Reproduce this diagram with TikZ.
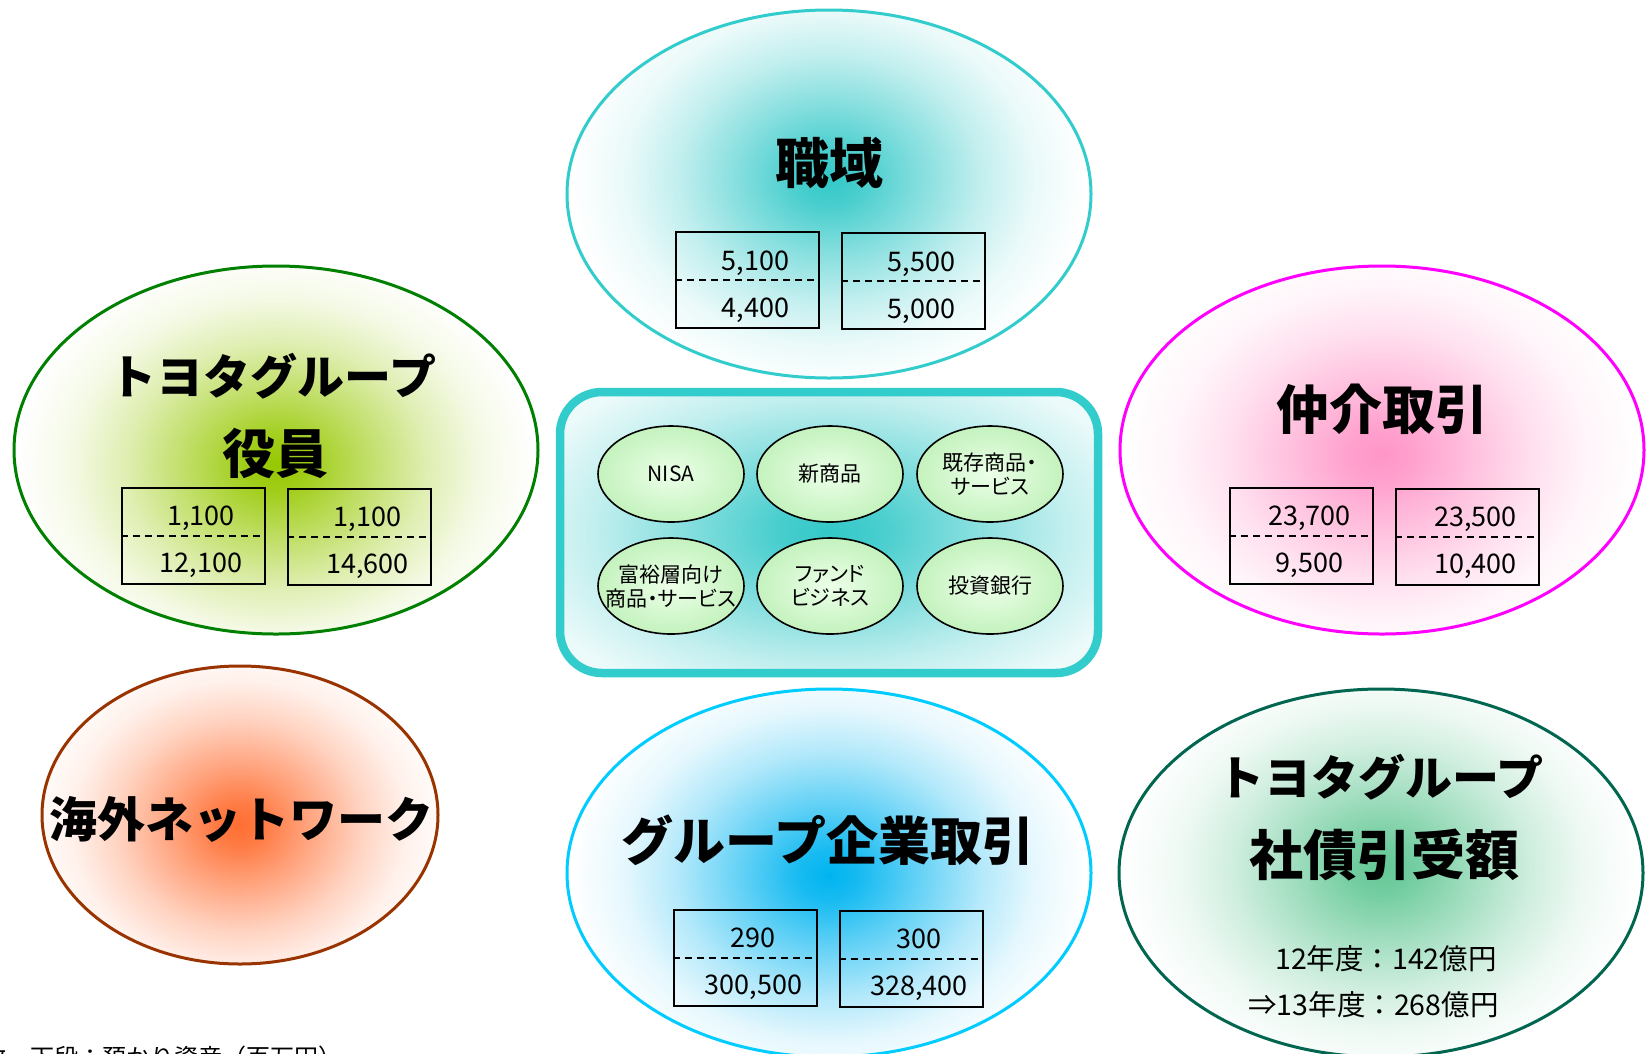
\documentclass[tikz,border=0pt]{standalone}
\usepackage{fontspec}
\setmainfont{Noto Sans CJK JP}
\newfontfamily\jpp{Noto Sans CJK JP}[RawFeature=+palt]
\usetikzlibrary{shapes.geometric}
\definecolor{tealb}{RGB}{51,204,204}
\definecolor{greenb}{RGB}{0,128,0}
\definecolor{magb}{RGB}{255,0,255}
\definecolor{brownb}{RGB}{153,51,0}
\definecolor{skyb}{RGB}{0,204,255}
\definecolor{dgreenb}{RGB}{0,102,80}
\definecolor{gteal}{RGB}{51,200,200}
\definecolor{glime}{RGB}{150,200,0}
\definecolor{gpink}{RGB}{255,150,200}
\definecolor{gorange}{RGB}{255,110,50}
\definecolor{gsky}{RGB}{0,180,240}
\definecolor{gmint}{RGB}{100,200,150}
\definecolor{smin}{RGB}{236,255,232}
\definecolor{smout}{RGB}{196,242,190}
\colorlet{glowc}{white}
\pgfdeclareradialshading[glowc]{glow}{\pgfpoint{0bp}{0bp}}{color(0bp)=(glowc); color(3bp)=(glowc!90!white); color(8bp)=(glowc!62!white); color(14bp)=(glowc!30!white); color(19bp)=(glowc!10!white); color(24bp)=(white); color(50bp)=(white)}
\tikzset{
  bigell/.style={ellipse, line width=3pt, minimum width=524pt, minimum height=368pt, inner sep=0pt},
  numbox/.style={draw=black, line width=1.8pt, minimum width=143pt, minimum height=96pt, inner sep=0pt},
  numtxt/.style={font=\fontsize{27}{30}\selectfont, anchor=base, inner sep=0pt},
  ttl/.style={font=\bfseries\fontsize{#1}{#1}\selectfont, inner sep=0pt},
  smallell/.style={ellipse, draw=black, line width=1.6pt, minimum width=146pt, minimum height=96pt, inner sep=0pt, inner color=smin, outer color=smout},
  smalltxt/.style={font=\jpp\fontsize{21}{24}\selectfont, align=center, inner sep=0pt},
  dashmid/.style={line width=1.8pt, dash pattern=on 7pt off 5pt},
}
\newcommand\NumBox[5]{%
  \node[numbox] (#1) at (#2,#3) {};
  \draw[dashmid] (#1.west) -- (#1.east);
  \node[numtxt] (#1t) at ([xshift=8pt,yshift=10pt]#1.center) {#4};
  \node[numtxt] (#1b) at ([xshift=8pt,yshift=-37pt]#1.center) {#5};
}
\begin{document}
\begin{tikzpicture}[x=1pt,y=-1pt]
\useasboundingbox (0,0) rectangle (1646,1053);
\fill[white] (0,0) rectangle (1646,1053);

% --- glows ---
\begin{scope}
  \clip (829,194) ellipse [x radius=262pt, y radius=184pt];
  \colorlet{glowc}{gteal}
  \shade[shading=glow] (829,178) ellipse [x radius=270pt, y radius=220pt];
\end{scope}
\begin{scope}
  \clip (276,450) ellipse [x radius=262pt, y radius=184pt];
  \colorlet{glowc}{glime}
  \shade[shading=glow] (276,465) ellipse [x radius=270pt, y radius=220pt];
\end{scope}
\begin{scope}
  \clip (1382,450) ellipse [x radius=262pt, y radius=184pt];
  \colorlet{glowc}{gpink}
  \shade[shading=glow] (1381,455) ellipse [x radius=270pt, y radius=220pt];
\end{scope}
\begin{scope}
  \clip (240,815) ellipse [x radius=198pt, y radius=149pt];
  \colorlet{glowc}{gorange}
  \shade[shading=glow] (239,825) ellipse [x radius=220pt, y radius=190pt];
\end{scope}
\begin{scope}
  \clip (829,873) ellipse [x radius=262pt, y radius=184pt];
  \colorlet{glowc}{gsky}
  \shade[shading=glow] (829,875) ellipse [x radius=270pt, y radius=220pt];
\end{scope}
\begin{scope}
  \clip (1381,873) ellipse [x radius=262pt, y radius=184pt];
  \colorlet{glowc}{gmint}
  \shade[shading=glow] (1382,868) ellipse [x radius=270pt, y radius=220pt];
\end{scope}
\begin{scope}
  \clip[rounded corners=42pt] (560,392) rectangle (1098,673);
  \fill[tealb!3!white] (560,392) rectangle (1098,673);
  \colorlet{glowc}{gteal}
  \shade[shading=glow] (829,532) ellipse [x radius=420pt, y radius=240pt];
\end{scope}

% --- outlines ---
\node[bigell, draw=tealb] (shokuiki) at (829,194) {};
\node[bigell, draw=greenb] (yakuin) at (276,450) {};
\node[bigell, draw=magb] (chukai) at (1382,450) {};
\node[ellipse, line width=3pt, minimum width=396pt, minimum height=298pt, inner sep=0pt, draw=brownb] (kaigai) at (240,815) {};
\node[bigell, draw=skyb] (kigyo) at (829,873) {};
\node[bigell, draw=dgreenb] (shasai) at (1381,873) {};
\node[draw=tealb, line width=8.5pt, rounded corners=42pt, minimum width=538pt, minimum height=281pt, inner sep=0pt] (core) at (829,532.5) {};

% --- titles ---
\node[ttl=54] (t1) at (829,163) {職域};
\node[ttl=47] (t2a) at (273,376) {トヨタグループ};
\node[ttl=53] (t2b) at (275.5,453.5) {役員};
\node[ttl=53] (t3) at (1382,409) {仲介取引};
\node[ttl=48] (t4) at (241.5,819) {海外ネットワーク};
\node[ttl=52] (t5) at (828,840) {グループ企業取引};
\node[ttl=47] (t6a) at (1380.5,777) {トヨタグループ};
\node[ttl=54] (t6b) at (1384.5,855.5) {社債引受額};
\node[font=\fontsize{28.5}{30}\selectfont, inner sep=0pt] (s1) at (1386,958.5) {12年度：142億円};
\node[font=\fontsize{28.5}{30}\selectfont, inner sep=0pt] (s2) at (1373.5,1005) {⇒13年度：268億円};

% --- number boxes ---
\NumBox{na}{747.5}{280}{5,100}{4,400}
\NumBox{nb}{913.5}{281}{5,500}{5,000}
\NumBox{nc}{193.2}{535.8}{1,100}{12,100}
\NumBox{nd}{359.5}{536.9}{1,100}{14,600}
\NumBox{ne}{1301.5}{535.8}{23,700}{9,500}
\NumBox{nf}{1467.5}{536.9}{23,500}{10,400}
\NumBox{ng}{745.3}{957.8}{290}{300,500}
\NumBox{nh}{911.2}{958.9}{300}{328,400}

% --- small ellipses ---
\node[smallell] (p1) at (671,474) {};
\node[smallell] (p2) at (830,474) {};
\node[smallell] (p3) at (990,474) {};
\node[smallell] (p4) at (671,586) {};
\node[smallell] (p5) at (830,586) {};
\node[smallell] (p6) at (990,586) {};
\node[smalltxt] (p1t) at (p1) {NISA};
\node[smalltxt] (p2t) at (p2) {新商品};
\node[smalltxt] (p3t) at (p3) {既存商品・\\サービス};
\node[smalltxt] (p4t) at (p4) {富裕層向け\\商品・サービス};
\node[smalltxt] (p5t) at (p5) {ファンド\\ビジネス};
\node[smalltxt] (p6t) at (p6) {投資銀行};

% --- clipped footnote ---
\node[anchor=base east, inner sep=0pt, font=\fontsize{24}{24}\selectfont] (note) at (343,1066) {上段：口座数、下段：預かり資産（百万円）};
\end{tikzpicture}
\end{document}
